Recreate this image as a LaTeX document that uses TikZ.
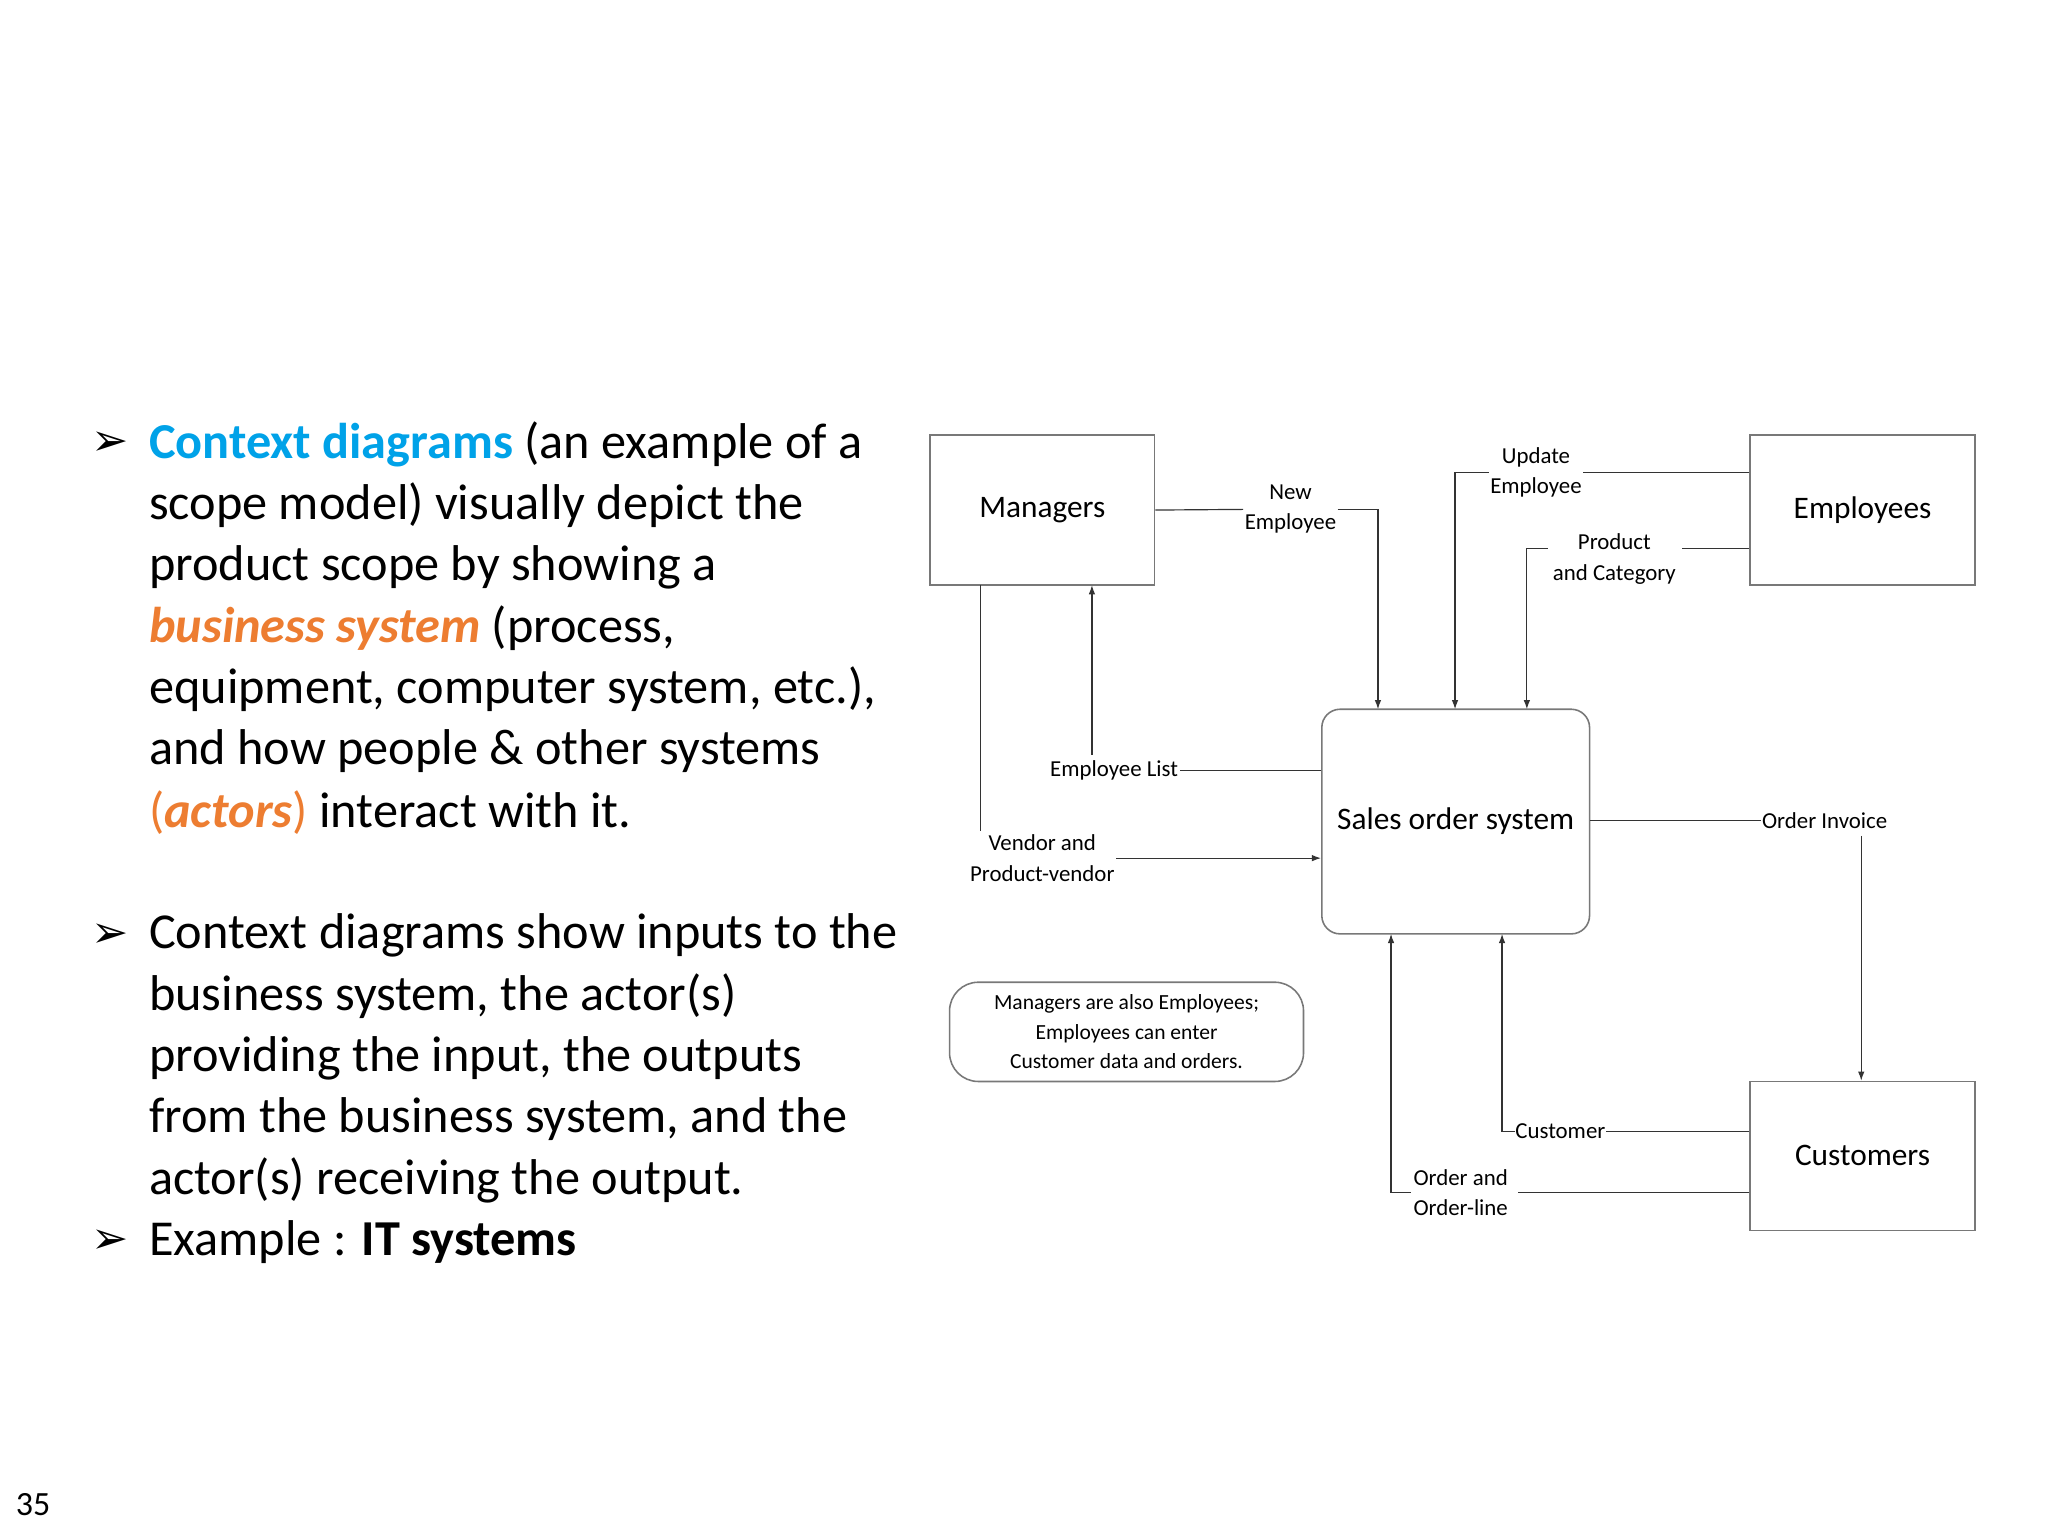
\documentclass[tikz,border=0pt]{standalone}
\usepackage{fontspec}
\setmainfont{Carlito}
\newfontfamily\dejavu{DejaVu Sans}
\usetikzlibrary{arrows.meta}
\definecolor{cblue}{RGB}{0,162,232}
\definecolor{corange}{RGB}{237,125,49}
\definecolor{lgray}{RGB}{120,120,120}
\begin{document}
\begin{tikzpicture}[x=1pt,y=-1pt,
  txt/.style={anchor=west,inner sep=0pt,font=\fontsize{38.5}{44}\selectfont},
  bul/.style={anchor=west,inner sep=0pt,font=\dejavu\fontsize{34}{38}\selectfont},
  box/.style={draw=lgray,line width=1.2pt,inner sep=0pt,font=\fontsize{24}{28}\selectfont},
  lab/.style={inner sep=1pt,align=center,font=\fontsize{17.5}{23}\selectfont},
  ln/.style={draw=black!80,line width=0.9pt},
  ar/.style={ln,-{Latex[length=7pt,width=5pt]}}]
\useasboundingbox (0,0) rectangle (1568,1176);
\fill[white] (0,0) rectangle (1568,1176);
% text
\node[bul] (b1) at (70,340) {➢};
\node[txt] (t1) at (114,340) {\textbf{\color{cblue}Context diagrams} (an example of a};
\node[txt] (t2) at (114,387) {scope model) visually depict the};
\node[txt] (t3) at (114,434) {product scope by showing a};
\node[txt] (t4) at (114,481) {\textbf{\textit{\color{corange}business system}} (process,};
\node[txt] (t5) at (114,528) {equipment, computer system, etc.),};
\node[txt] (t6) at (114,575) {and how people \& other systems};
\node[txt] (t7) at (114,622) {{\color{corange}(\textbf{\textit{actors}})} interact with it.};
\node[bul] (b2) at (70,716) {➢};
\node[txt] (u1) at (114,716) {Context diagrams show inputs to the};
\node[txt] (u2) at (114,763) {business system, the actor(s)};
\node[txt] (u3) at (114,810) {providing the input, the outputs};
\node[txt] (u4) at (114,857) {from the business system, and the};
\node[txt] (u5) at (114,904) {actor(s) receiving the output.};
\node[bul] (b3) at (70,951) {➢};
\node[txt] (u6) at (114,951) {Example : \textbf{IT systems}};
\node[anchor=west,inner sep=0pt,font=\fontsize{26}{30}\selectfont] (pg) at (12,1152) {35};
% boxes
\node[box,minimum width=172pt,minimum height=115pt] (man) at (798,390.5) {Managers};
\node[box,minimum width=172pt,minimum height=115pt] (emp) at (1426,390.5) {Employees};
\node[box,minimum width=172pt,minimum height=114pt] (cus) at (1426,885) {Customers};
\node[box,rounded corners=14pt,minimum width=205pt,minimum height=172pt] (sos) at (1114.5,629) {Sales order system};
\node[box,rounded corners=22pt,minimum width=271pt,minimum height=76pt,align=center,font=\fontsize{16.5}{22.5}\selectfont] (note) at (862.5,790) {Managers are also Employees;\\Employees can enter\\Customer data and orders.};
% labels
\node[lab] (lne) at (988,390) {New\\Employee};
\node[lab] (lue) at (1176,362) {Update\\Employee};
\node[lab] (lpc) at (1236,428) {Product\\and Category};
\node[lab] (lel) at (853,590) {Employee List};
\node[lab] (lvp) at (798,657) {Vendor and\\Product-vendor};
\node[lab] (loi) at (1397,628) {Order Invoice};
\node[lab,anchor=west,inner sep=0pt] (lcu) at (1160,866) {Customer};
\node[lab,anchor=west,inner sep=0pt] (lol) at (1082,913) {Order and\\Order-line};
% connectors
\draw[ln] (man.east) -- (lne.west);
\draw[ar] (lne.east) -- (1055,390) -- (1055,543);
\draw[ln] (emp.west |- 0,362) -- (lue.east);
\draw[ar] (lue.west) -- (1114,362) -- (1114,543);
\draw[ln] (emp.west |- 0,420) -- (1288,420);
\draw[ar] (1185,420) -- (1169,420) -- (1169,543);
\draw[ln] (sos.west |- 0,590) -- (lel.east);
\draw[ar] (836,578) -- (836,448);
\draw[ln] (751,448) -- (751,636);
\draw[ar] (lvp.east |- 0,657) -- (sos.west |- 0,657);
\draw[ln] (sos.east |- 0,628) -- (loi.west);
\draw[ar] (1425,640) -- (cus.north -| 1425,0);
\draw[ln] (cus.west |- 0,866) -- (lcu.east);
\draw[ar] (1160,866) -- (1150,866) -- (1150,715);
\draw[ln] (cus.west |- 0,913) -- (1162,913);
\draw[ar] (1080,913) -- (1065,913) -- (1065,715);
\end{tikzpicture}
\end{document}
